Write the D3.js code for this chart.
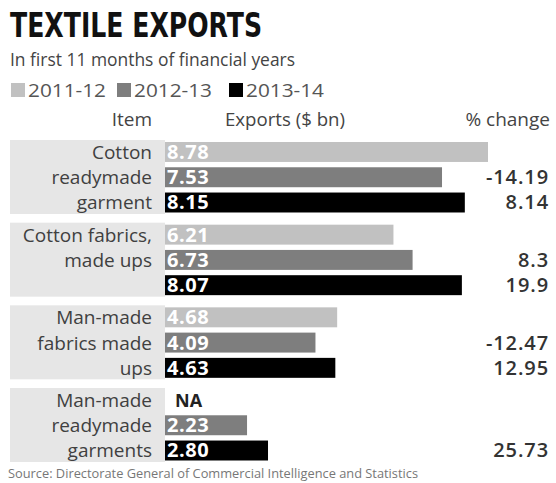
<!DOCTYPE html>
<html>
<head>
<meta charset="utf-8">
<script src="https://cdn.jsdelivr.net/npm/d3@7/dist/d3.min.js"></script>
<style>
  body { margin: 0; background: #fff; }
  svg { display: block; }
  text { font-family: "Open Sans", "Noto Sans", sans-serif; }
</style>
</head>
<body>
<svg id="chart" width="556" height="483"></svg>
<script>
// Export years (series) and product groups (categories)
const years = ["2011-12", "2012-13", "2013-14"];
const items = ["Cotton readymade garment", "Cotton fabrics, made ups",
               "Man-made fabrics made ups", "Man-made readymade garments"];
const itemLines = [
  ["Cotton", "readymade", "garment"],
  ["Cotton fabrics,", "made ups", ""],
  ["Man-made", "fabrics made", "ups"],
  ["Man-made", "readymade", "garments"]
];

// Exports, $ bn (null = not available)
const exports2011 = [8.78, 6.21, 4.68, null];
const exports2012 = [7.53, 6.73, 4.09, 2.23];
const exports2013 = [8.15, 8.07, 4.63, 2.80];

// % change versus the previous year, one row per year
const pctChange = [
  [null, -14.19, 8.14],
  [null, 8.3, 19.9],
  [null, -12.47, 12.95],
  [null, null, 25.73]
];

const colors = ["#c1c1c1", "#7e7e7e", "#000000"];

const series = [exports2011, exports2012, exports2013];
const svg = d3.select("#chart");

// Scales
const x = d3.scaleLinear().domain([0, 8.78]).range([165, 488]);
const yGroup = d3.scaleBand().domain(items).range([140, 462]).paddingInner(0.105);
const yRow = d3.scaleBand().domain(years).range([2, yGroup.bandwidth() - 1.5]).paddingInner(0.21);
const color = d3.scaleOrdinal().domain(years).range(colors);

// Title block
svg.append("text")
  .attr("x", 10).attr("y", 37)
  .style("font-family", "'Liberation Sans Narrow', 'DejaVu Sans Condensed', sans-serif")
  .style("font-weight", "bold").style("font-size", "34px")
  .attr("fill", "#111")
  .attr("textLength", 252).attr("lengthAdjust", "spacingAndGlyphs")
  .text("TEXTILE EXPORTS");

svg.append("text")
  .attr("x", 10).attr("y", 66)
  .style("font-size", "18px").attr("fill", "#444")
  .attr("textLength", 285).attr("lengthAdjust", "spacingAndGlyphs")
  .text("In first 11 months of financial years");

// Legend
const legendX = [11, 117, 229];
const legend = svg.append("g").selectAll("g").data(years).join("g")
  .attr("transform", (d, i) => `translate(${legendX[i]},83)`);
legend.append("rect").attr("width", 14).attr("height", 14).attr("fill", d => color(d));
legend.append("text").attr("x", 17).attr("y", 14)
  .style("font-size", "19px").attr("fill", "#555")
  .attr("textLength", 78).attr("lengthAdjust", "spacingAndGlyphs")
  .text(d => d);

// Column headers
const header = svg.append("g").attr("fill", "#444").style("font-size", "19px");
header.append("text").attr("x", 152).attr("y", 126).attr("text-anchor", "end").text("Item");
header.append("text").attr("x", 225).attr("y", 126)
  .attr("textLength", 120).attr("lengthAdjust", "spacingAndGlyphs").text("Exports ($ bn)");
header.append("text").attr("x", 550).attr("y", 126).attr("text-anchor", "end").text("% change");

// Groups
const groups = svg.append("g").selectAll("g").data(items).join("g")
  .attr("transform", d => `translate(0,${yGroup(d)})`);

groups.append("rect")
  .attr("x", 10).attr("width", x(0) - 10)
  .attr("height", yGroup.bandwidth())
  .attr("fill", "#e6e6e6");

groups.each(function(item, gi) {
  const g = d3.select(this);
  years.forEach((yr, ri) => {
    const top = yRow(yr);
    const base = top + yRow.bandwidth() - 3;
    const v = series[ri][gi];

    if (itemLines[gi][ri]) {
      g.append("text")
        .attr("x", 152).attr("y", base)
        .attr("text-anchor", "end")
        .style("font-size", "19px").attr("fill", "#404040")
        .text(itemLines[gi][ri]);
    }

    if (v == null) {
      g.append("text")
        .attr("x", x(0) + 10).attr("y", base)
        .style("font-size", "18px").style("font-weight", "bold").attr("fill", "#222")
        .text("NA");
    } else {
      g.append("rect")
        .attr("x", x(0)).attr("y", top)
        .attr("width", x(v) - x(0)).attr("height", yRow.bandwidth())
        .attr("fill", color(yr));
      g.append("text")
        .attr("x", x(0) + 2).attr("y", base)
        .style("font-size", "20px").style("font-weight", "bold")
        .style("letter-spacing", "0.6px").attr("fill", "#fff")
        .text(v.toFixed(2));
    }

    const p = pctChange[gi][ri];
    if (p != null) {
      g.append("text")
        .attr("x", 549).attr("y", base)
        .attr("text-anchor", "end")
        .style("font-size", "20px").style("font-weight", "600")
        .style("letter-spacing", "0.9px").attr("fill", "#333")
        .text(String(p));
    }
  });
});

// Source line
svg.append("text")
  .attr("x", 8).attr("y", 478)
  .style("font-size", "12.5px").attr("fill", "#777")
  .attr("textLength", 410).attr("lengthAdjust", "spacingAndGlyphs")
  .text("Source: Directorate General of Commercial Intelligence and Statistics");
</script>
</body>
</html>
